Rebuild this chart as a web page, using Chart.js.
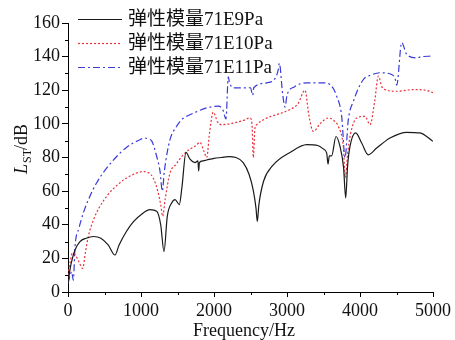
<!DOCTYPE html>
<html>
<head>
<meta charset="utf-8">
<script src="https://cdn.jsdelivr.net/npm/chart.js@4/dist/chart.umd.min.js"></script>
<style>
  body { margin: 0; background: #fff; }
  #box { width: 455px; height: 340px; }
</style>
</head>
<body>
<div id="box"><canvas id="grafico" width="455" height="340"></canvas></div>
<script>
// series names
const nomes = ["弹性模量71E9Pa", "弹性模量71E10Pa", "弹性模量71E11Pa"];

// E9 (black, solid)
const freqE9 = [0, 30, 60, 96, 164, 250, 347, 450, 550, 644, 700, 800, 900, 1000, 1123, 1215, 1270, 1315, 1360, 1420, 1466, 1525, 1560, 1616, 1671, 1740, 1780, 1790, 1800, 1850, 1900, 2000, 2100, 2200, 2300, 2400, 2480, 2540, 2575, 2593, 2615, 2680, 2800, 3041, 3270, 3429, 3500, 3544, 3562, 3580, 3612, 3671, 3726, 3775, 3804, 3830, 3863, 3941, 4023, 4114, 4228, 4411, 4640, 4822, 5000];
const valE9 = [5, 14, 20, 25, 30, 32, 33, 32, 28, 22, 28, 36, 42, 46, 49, 48, 40, 24, 45, 53, 55, 52, 62, 83, 79, 77, 78, 72, 77, 78, 78.5, 79.5, 80, 80.5, 80, 77, 70, 60, 50, 42, 52, 66, 75, 83, 87.6, 87, 85, 82.6, 76, 81, 81, 92.5, 86.6, 74, 56, 75, 86.6, 94.6, 88.6, 81.6, 85.6, 91.6, 95, 94.6, 89.6];

// E10 (red, dotted)
const freqE10 = [0, 30, 60, 100, 150, 201, 240, 278, 350, 438, 550, 712, 850, 1032, 1100, 1169, 1230, 1270, 1297, 1330, 1397, 1480, 1580, 1671, 1750, 1808, 1860, 1900, 1940, 1990, 2050, 2105, 2265, 2400, 2493, 2520, 2539, 2560, 2584, 2700, 2858, 3041, 3150, 3247, 3300, 3361, 3452, 3566, 3640, 3703, 3771, 3800, 3830, 3870, 3955, 4068, 4137, 4200, 4251, 4300, 4342, 4503, 4730, 4900, 5000];
const valE10 = [10, 18, 23, 22, 18, 14, 24, 33, 43, 51, 58, 65, 69, 71.6, 71, 67.7, 60, 52, 45, 55, 70.7, 76, 81.6, 85, 87, 89, 84, 80, 95, 107, 101, 99.5, 100.5, 102, 103.5, 100, 80, 97, 99.5, 103, 105.5, 108.5, 112, 120, 105, 95.5, 100, 103.5, 102, 98.5, 86.6, 68, 82, 94, 103.5, 104.5, 99.5, 113, 128.4, 122, 120.4, 119.4, 120.4, 120, 118.5];

// E11 (blue, dash-dot)
const freqE11 = [0, 30, 50, 73, 96, 150, 210, 300, 393, 500, 667, 800, 986, 1055, 1100, 1150, 1215, 1260, 1292, 1320, 1397, 1480, 1557, 1626, 1750, 1900, 2059, 2120, 2164, 2196, 2210, 2265, 2402, 2500, 2530, 2545, 2722, 2850, 2881, 2895, 2940, 2973, 3000, 3100, 3270, 3497, 3589, 3681, 3749, 3795, 3840, 3909, 4046, 4150, 4274, 4434, 4480, 4503, 4571, 4640, 4777, 4850, 4982];
const valE11 = [5, 10, 12, 7, 27, 38, 47, 57, 65, 72, 80.6, 86, 90.6, 91.6, 91, 89.6, 80.6, 72, 60, 72, 90.6, 98, 102.5, 104.5, 107, 109.5, 110.5, 108.5, 103, 128, 125, 121.4, 121.4, 121.5, 117, 121.5, 124.4, 128, 132.4, 136, 118, 110, 117, 122, 124.4, 124.4, 123.4, 116.4, 104.5, 80, 102.5, 113.4, 126.4, 129, 130.4, 129.4, 127, 123, 148.3, 141.3, 139.3, 140, 140.3];

// axis ticks
const ticksX = [0, 1000, 2000, 3000, 4000, 5000];
const ticksY = [0, 20, 40, 60, 80, 100, 120, 140, 160];

const fonteSerif = '"Liberation Serif", "Times New Roman", "Noto Sans CJK SC", serif';
const cores = ["#1a1a1a", "#e8323c", "#3a3ad8"];
const tracos = [[], [2, 2], [7, 3, 2, 3]];

function juntar(fs, vs) {
  return fs.map((f, i) => ({ x: f, y: vs[i] }));
}

const eixosExtras = {
  id: "eixosExtras",
  afterDraw(chart) {
    const ctx = chart.ctx;
    const area = chart.chartArea;
    const sx = chart.scales.x;
    const sy = chart.scales.y;
    ctx.save();
    ctx.strokeStyle = "#000";
    ctx.lineWidth = 1;
    // minor ticks
    for (let v = 10; v < 160; v += 20) {
      const py = Math.round(sy.getPixelForValue(v)) + 0.5;
      ctx.beginPath();
      ctx.moveTo(area.left - 3, py);
      ctx.lineTo(area.left, py);
      ctx.stroke();
    }
    for (let f = 500; f < 5000; f += 1000) {
      const px = Math.round(sx.getPixelForValue(f)) + 0.5;
      ctx.beginPath();
      ctx.moveTo(px, area.bottom);
      ctx.lineTo(px, area.bottom + 3);
      ctx.stroke();
    }

    // legend
    const linhasY = [19, 43, 67];
    chart.data.datasets.forEach((ds, i) => {
      ctx.strokeStyle = ds.borderColor;
      ctx.lineWidth = 1.2;
      ctx.setLineDash(ds.borderDash || []);
      ctx.beginPath();
      ctx.moveTo(78, linhasY[i] + 0.5);
      ctx.lineTo(122, linhasY[i] + 0.5);
      ctx.stroke();
      ctx.setLineDash([]);
      ctx.fillStyle = "#111";
      ctx.font = "19px " + fonteSerif;
      ctx.textBaseline = "middle";
      ctx.textAlign = "left";
      ctx.fillText(ds.label, 128, linhasY[i] + 1);
    });

    // x title
    ctx.fillStyle = "#111";
    ctx.font = "18px " + fonteSerif;
    ctx.textAlign = "center";
    ctx.textBaseline = "middle";
    ctx.fillText("Frequency/Hz", 244, 331);

    // y title: L_ST/dB
    ctx.translate(21, 149);
    ctx.rotate(-Math.PI / 2);
    const fL = "italic 18px " + fonteSerif;
    const fS = "12px " + fonteSerif;
    const fN = "18px " + fonteSerif;
    ctx.font = fL; const wL = ctx.measureText("L").width;
    ctx.font = fS; const wS = ctx.measureText("ST").width;
    ctx.font = fN; const wD = ctx.measureText("/dB").width;
    let x0 = -(wL + wS + wD) / 2;
    ctx.textAlign = "left";
    ctx.textBaseline = "alphabetic";
    ctx.font = fL; ctx.fillText("L", x0, 6); x0 += wL + 1;
    ctx.font = fS; ctx.fillText("ST", x0, 10); x0 += wS - 1;
    ctx.font = fN; ctx.fillText("/dB", x0, 6);
    ctx.restore();
  }
};

function desenhar() {
  const idGrafico = document.getElementById("grafico").getContext("2d");
  const series = [juntar(freqE9, valE9), juntar(freqE10, valE10), juntar(freqE11, valE11)];

  new Chart(idGrafico, {
    type: "line",
    data: {
      datasets: series.map((s, i) => ({
        label: nomes[i],
        data: s,
        borderColor: cores[i],
        borderDash: tracos[i],
        borderWidth: 1.2,
        pointRadius: 0,
        cubicInterpolationMode: "monotone",
        fill: false
      }))
    },
    options: {
      responsive: false,
      animation: false,
      layout: { padding: { left: 0, top: 23, right: 22, bottom: 0 } },
      plugins: { legend: { display: false }, tooltip: { enabled: false } },
      scales: {
        x: {
          type: "linear",
          min: 0,
          max: 5000,
          afterBuildTicks: (s) => { s.ticks = ticksX.map((v) => ({ value: v })); },
          afterFit: (s) => { s.height = 48; },
          grid: { display: true, drawOnChartArea: false, drawTicks: true, tickLength: 5, color: "#000" },
          border: { display: true, color: "#000", width: 1 },
          ticks: { color: "#111", padding: 3, maxRotation: 0, callback: (v) => String(v), font: { family: fonteSerif, size: 18 } }
        },
        y: {
          min: 0,
          max: 160,
          afterBuildTicks: (s) => { s.ticks = ticksY.map((v) => ({ value: v })); },
          afterFit: (s) => { s.width = 68; },
          grid: { display: true, drawOnChartArea: false, drawTicks: true, tickLength: 6, color: "#000" },
          border: { display: true, color: "#000", width: 1 },
          ticks: { color: "#111", padding: 2, callback: (v) => String(v), font: { family: fonteSerif, size: 18 } }
        }
      }
    },
    plugins: [eixosExtras]
  });
}

Promise.all([
  document.fonts.load('18px "Liberation Serif"'),
  document.fonts.load('italic 18px "Liberation Serif"'),
  document.fonts.load('18px "Noto Sans CJK SC"', "弹性模量")
]).then(desenhar, desenhar);
</script>
</body>
</html>
